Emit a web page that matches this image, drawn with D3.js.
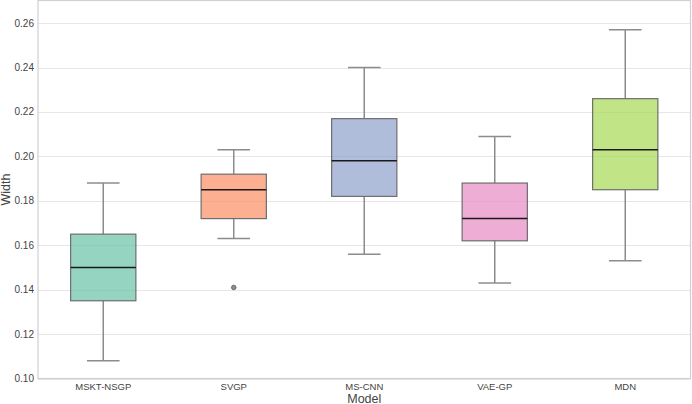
<!DOCTYPE html>
<html>
<head>
<meta charset="utf-8">
<script src="https://cdn.jsdelivr.net/npm/d3@7"></script>
<style>
    body { margin: 0; background: white; }
    svg { display: block; font-family: "Liberation Sans", Arial, sans-serif; }
</style>
</head>
<body>
<div id="chart"></div>
<script>
// box statistics
var models = ['MSKT-NSGP', 'SVGP', 'MS-CNN', 'VAE-GP', 'MDN'];
var whiskerLow = [0.108, 0.163, 0.156, 0.143, 0.153];
var q1 = [0.135, 0.172, 0.182, 0.162, 0.185];
var medians = [0.150, 0.185, 0.198, 0.172, 0.203];
var q3 = [0.165, 0.192, 0.217, 0.188, 0.226];
var whiskerHigh = [0.188, 0.203, 0.240, 0.209, 0.257];
var outliers = [[], [0.141], [], [], []];
var yTicks = [0.10, 0.12, 0.14, 0.16, 0.18, 0.20, 0.22, 0.24, 0.26];
var colors = ['#66c2a5', '#fc8d62', '#8da0cb', '#e78ac3', '#a6d854'];

var width = 692,
    height = 404,
    margin = {top: 0.5, right: 1.5, bottom: 25.5, left: 38};

var svg = d3.select('#chart')
    .append('svg')
    .attr('width', width)
    .attr('height', height);

var x = d3.scaleBand()
    .domain(models)
    .range([margin.left, width - margin.right])
    .padding(0);

var y = d3.scaleLinear()
    .domain([0.10, 0.2702])
    .range([height - margin.bottom, margin.top]);

// horizontal grid
svg.append('g')
    .selectAll('line')
    .data(yTicks)
    .enter()
    .append('line')
    .attr('x1', margin.left)
    .attr('x2', width - margin.right)
    .attr('y1', function (d) { return Math.round(y(d)) + 0.5; })
    .attr('y2', function (d) { return Math.round(y(d)) + 0.5; })
    .attr('stroke', '#e6e6e6')
    .attr('stroke-width', 1);

// frame
svg.append('rect')
    .attr('x', margin.left)
    .attr('y', margin.top)
    .attr('width', width - margin.right - margin.left)
    .attr('height', height - margin.bottom - margin.top)
    .attr('fill', 'none')
    .attr('stroke', '#d0d0d0')
    .attr('stroke-width', 1.2);

// y tick labels
svg.append('g')
    .selectAll('text')
    .data(yTicks)
    .enter()
    .append('text')
    .attr('x', margin.left - 4)
    .attr('y', function (d) { return y(d); })
    .attr('dy', '0.35em')
    .attr('text-anchor', 'end')
    .attr('font-size', 10)
    .attr('fill', '#444')
    .text(d3.format('.2f'));

// x tick labels
svg.append('g')
    .selectAll('text')
    .data(models)
    .enter()
    .append('text')
    .attr('x', function (d) { return x(d) + x.bandwidth() / 2; })
    .attr('y', height - margin.bottom + 11)
    .attr('text-anchor', 'middle')
    .attr('font-size', 9.5)
    .attr('fill', '#444')
    .text(function (d) { return d; });

// axis titles
svg.append('text')
    .attr('x', (margin.left + width - margin.right) / 2)
    .attr('y', height - 1.5)
    .attr('text-anchor', 'middle')
    .attr('font-size', 12.5)
    .attr('fill', '#444')
    .text('Model');

svg.append('text')
    .attr('transform', 'translate(10,' + ((margin.top + height - margin.bottom) / 2) + ') rotate(-90)')
    .attr('text-anchor', 'middle')
    .attr('font-size', 12.5)
    .attr('fill', '#444')
    .text('Width');

// boxes
var boxW = x.bandwidth() * 0.5,
    capW = boxW * 0.5;

var groups = svg.append('g')
    .selectAll('g')
    .data(models)
    .enter()
    .append('g')
    .attr('transform', function (d) { return 'translate(' + (x(d) + x.bandwidth() / 2) + ',0)'; });

// whiskers
groups.append('line')
    .attr('x1', 0).attr('x2', 0)
    .attr('y1', function (d, i) { return y(whiskerHigh[i]); })
    .attr('y2', function (d, i) { return y(q3[i]); })
    .attr('stroke', '#8c8c8c').attr('stroke-width', 1.5);
groups.append('line')
    .attr('x1', 0).attr('x2', 0)
    .attr('y1', function (d, i) { return y(q1[i]); })
    .attr('y2', function (d, i) { return y(whiskerLow[i]); })
    .attr('stroke', '#8c8c8c').attr('stroke-width', 1.5);
groups.append('line')
    .attr('x1', -capW / 2).attr('x2', capW / 2)
    .attr('y1', function (d, i) { return y(whiskerHigh[i]); })
    .attr('y2', function (d, i) { return y(whiskerHigh[i]); })
    .attr('stroke', '#8c8c8c').attr('stroke-width', 1.5);
groups.append('line')
    .attr('x1', -capW / 2).attr('x2', capW / 2)
    .attr('y1', function (d, i) { return y(whiskerLow[i]); })
    .attr('y2', function (d, i) { return y(whiskerLow[i]); })
    .attr('stroke', '#8c8c8c').attr('stroke-width', 1.5);

// box body
groups.append('rect')
    .attr('x', -boxW / 2)
    .attr('width', boxW)
    .attr('y', function (d, i) { return y(q3[i]); })
    .attr('height', function (d, i) { return y(q1[i]) - y(q3[i]); })
    .attr('fill', function (d, i) { return colors[i]; })
    .attr('fill-opacity', 0.7)
    .attr('stroke', '#6e6e6e')
    .attr('stroke-width', 1.2);

// median
groups.append('line')
    .attr('x1', -boxW / 2).attr('x2', boxW / 2)
    .attr('y1', function (d, i) { return y(medians[i]); })
    .attr('y2', function (d, i) { return y(medians[i]); })
    .attr('stroke', '#1a1a1a').attr('stroke-width', 1.5);

// outliers
groups.selectAll('circle')
    .data(function (d, i) { return outliers[i]; })
    .enter()
    .append('circle')
    .attr('cx', 0)
    .attr('cy', function (d) { return y(d); })
    .attr('r', 2.3)
    .attr('fill', '#8c8c8c')
    .attr('stroke', '#5a5a5a')
    .attr('stroke-width', 0.8);
</script>
</body>
</html>
